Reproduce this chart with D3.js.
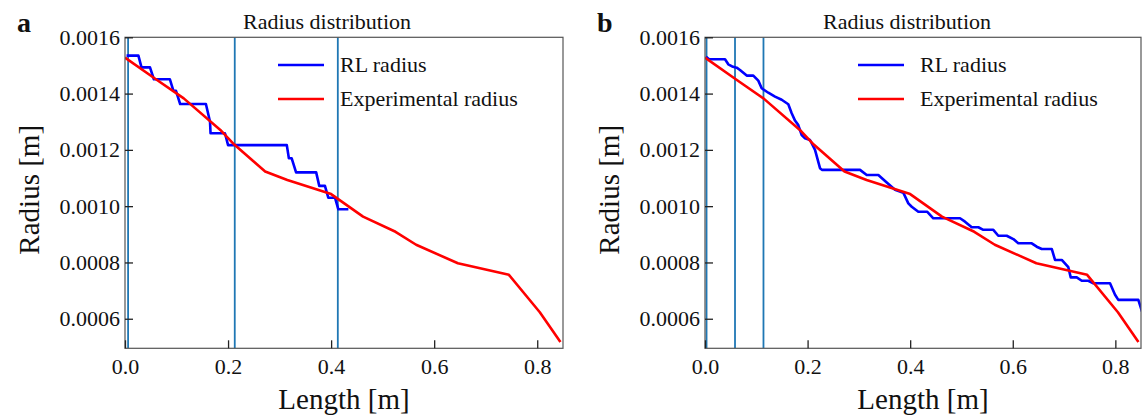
<!DOCTYPE html>
<html><head><meta charset="utf-8">
<script src="https://cdn.jsdelivr.net/npm/d3@7/dist/d3.min.js"></script>
<style>
body{margin:0;background:#fff}
text{font-family:"Liberation Serif","Times New Roman",serif;fill:#111}
</style>
</head><body>
<svg id="chart" width="1146" height="416"></svg>
<script>
// ---- data ----
const panelLabels = ["a", "b"];
const titleText = "Radius distribution";
const xLabel = "Length [m]";
const yLabel = "Radius [m]";
const seriesNames = ["RL radius", "Experimental radius"];
const lengthTicks = [0.0, 0.2, 0.4, 0.6, 0.8];
const radiusTicks = [0.0006, 0.0008, 0.0010, 0.0012, 0.0014, 0.0016];

const expLength = [0.000, 0.060, 0.114, 0.185, 0.212, 0.272, 0.315, 0.400, 0.462, 0.525, 0.565, 0.646, 0.745, 0.805, 0.845];
const expRadius = [0.001528, 0.001451, 0.001383, 0.001271, 0.001219, 0.001123, 0.001093, 0.001043, 0.000963, 0.000909, 0.000863, 0.000797, 0.000756, 0.000623, 0.000517];

const rlLengthA = [0.003, 0.026, 0.032, 0.0485, 0.056, 0.087, 0.094, 0.099, 0.107, 0.157, 0.165, 0.166, 0.194, 0.200, 0.314, 0.318, 0.3235, 0.332, 0.371, 0.377, 0.388, 0.3945, 0.4075, 0.414, 0.4335];
const rlRadiusA = [0.001535, 0.001535, 0.001493, 0.001493, 0.001451, 0.001451, 0.001410, 0.001410, 0.001363, 0.001363, 0.001300, 0.001259, 0.001259, 0.001217, 0.001217, 0.001170, 0.001170, 0.001120, 0.001120, 0.001072, 0.001072, 0.001030, 0.001030, 0.000989, 0.000989];

const rlLengthB = [0.002, 0.008, 0.039, 0.0454, 0.0546, 0.0618, 0.0682, 0.0813, 0.0942, 0.1039, 0.1105, 0.1234, 0.1365, 0.1495, 0.1624, 0.169, 0.1755, 0.1819, 0.1885, 0.195, 0.2047, 0.2145, 0.2242, 0.228, 0.3022, 0.3153, 0.3379, 0.3543, 0.3704, 0.3866, 0.3964, 0.403, 0.4159, 0.4334, 0.4451, 0.4972, 0.5069, 0.520, 0.5329, 0.5426, 0.5621, 0.5718, 0.5882, 0.6011, 0.6108, 0.637, 0.6467, 0.6565, 0.676, 0.6824, 0.6955, 0.7083, 0.713, 0.7247, 0.7345, 0.7473, 0.7571, 0.7896, 0.7994, 0.8058, 0.8448, 0.852];
const rlRadiusB = [0.001531, 0.001522, 0.001522, 0.001504, 0.001495, 0.001492, 0.001484, 0.001464, 0.001464, 0.001446, 0.001419, 0.001403, 0.001389, 0.001378, 0.001362, 0.001330, 0.001304, 0.001288, 0.001253, 0.001241, 0.001235, 0.001200, 0.001135, 0.001129, 0.001129, 0.001111, 0.001111, 0.001084, 0.001058, 0.001048, 0.001010, 0.000998, 0.000980, 0.000980, 0.000957, 0.000957, 0.000945, 0.000925, 0.000925, 0.000916, 0.000916, 0.000895, 0.000895, 0.000883, 0.000868, 0.000868, 0.000856, 0.000848, 0.000848, 0.000809, 0.000809, 0.000783, 0.000747, 0.000747, 0.000735, 0.000735, 0.000726, 0.000726, 0.000685, 0.000667, 0.000667, 0.000625];

const vlinesA = [0.006, 0.213, 0.413];
const vlinesB = [0.003, 0.0585, 0.114];

const xDomain = [0, 0.85];
const yDomain = [0.000495, 0.0016];

// ---- drawing ----
const svg = d3.select("#chart");
const panels = [
  {label: panelLabels[0], left: 125, right: 563, rlL: rlLengthA, rlR: rlRadiusA, vl: vlinesA},
  {label: panelLabels[1], left: 705, right: 1141, rlL: rlLengthB, rlR: rlRadiusB, vl: vlinesB}
];
const plotTop = 37.3, plotBottom = 348.3;

panels.forEach((p, i) => {
  const x = d3.scaleLinear().domain(xDomain).range([p.left, p.right]);
  const y = d3.scaleLinear().domain(yDomain).range([plotBottom, plotTop]);
  const g = svg.append("g");
  const clipId = "clip" + i;
  svg.append("clipPath").attr("id", clipId).append("rect")
    .attr("x", p.left).attr("y", plotTop).attr("width", p.right - p.left).attr("height", plotBottom - plotTop);

  const plot = g.append("g").attr("clip-path", `url(#${clipId})`);
  plot.selectAll("line.vl").data(p.vl).join("line")
    .attr("x1", d => x(d)).attr("x2", d => x(d)).attr("y1", plotTop).attr("y2", plotBottom)
    .attr("stroke", "#1f77b4").attr("stroke-width", 1.8);

  const line = d3.line().x(d => x(d[0])).y(d => y(d[1]));
  const rl = p.rlL.map((v, k) => [v, p.rlR[k]]);
  const ex = expLength.map((v, k) => [v, expRadius[k]]);
  plot.append("path").datum(rl).attr("d", line).attr("fill", "none")
    .attr("stroke", "#0000ff").attr("stroke-width", 2.6).attr("stroke-linejoin", "round");
  plot.append("path").datum(ex).attr("d", line).attr("fill", "none")
    .attr("stroke", "#ff0000").attr("stroke-width", 2.6).attr("stroke-linejoin", "round");

  g.append("rect").attr("x", p.left).attr("y", plotTop).attr("width", p.right - p.left).attr("height", plotBottom - plotTop)
    .attr("fill", "none").attr("stroke", "#555").attr("stroke-width", 1.2);

  const xAxis = d3.axisBottom(x).tickValues(lengthTicks).tickFormat(d3.format(".1f")).tickSizeInner(-8).tickSizeOuter(0).tickPadding(10);
  const xa = g.append("g").attr("transform", `translate(0,${plotBottom})`).call(xAxis);
  xa.select(".domain").remove();
  xa.selectAll(".tick line").attr("stroke", "#222").attr("stroke-width", 1.3);
  xa.selectAll(".tick text").attr("font-size", 22).attr("font-family", "Liberation Serif").attr("fill", "#111");

  const yAxis = d3.axisLeft(y).tickValues(radiusTicks).tickFormat(d3.format(".4f")).tickSizeInner(-8).tickSizeOuter(0).tickPadding(5);
  const ya = g.append("g").attr("transform", `translate(${p.left},0)`).call(yAxis);
  ya.select(".domain").remove();
  ya.selectAll(".tick line").attr("stroke", "#222").attr("stroke-width", 1.3);
  ya.selectAll(".tick text").attr("font-size", 22).attr("font-family", "Liberation Serif").attr("fill", "#111");

  g.append("text").attr("x", (p.left + p.right) / 2).attr("y", 409).attr("text-anchor", "middle")
    .attr("font-size", 29).text(xLabel);
  g.append("text").attr("transform", `translate(${p.left - 96},${(plotTop + plotBottom) / 2 - 3}) rotate(-90)`)
    .attr("text-anchor", "middle").attr("dy", "0.35em").attr("font-size", 29).text(yLabel);
  g.append("text").attr("x", p.left + 118).attr("y", 29.3).attr("font-size", 22).text(titleText);
  g.append("text").attr("x", p.left - 108).attr("y", 32).attr("font-size", 28).attr("font-weight", "bold").text(p.label);

  const lg = g.append("g");
  const cols = ["#0000ff", "#ff0000"];
  seriesNames.forEach((name, k) => {
    const yy = 65 + k * 34;
    lg.append("line").attr("x1", p.left + 153).attr("x2", p.left + 199).attr("y1", yy).attr("y2", yy)
      .attr("stroke", cols[k]).attr("stroke-width", 2.6);
    lg.append("text").attr("x", p.left + 215).attr("y", yy).attr("dy", "0.33em").attr("font-size", 22).text(name);
  });
});
</script>
</body></html>
